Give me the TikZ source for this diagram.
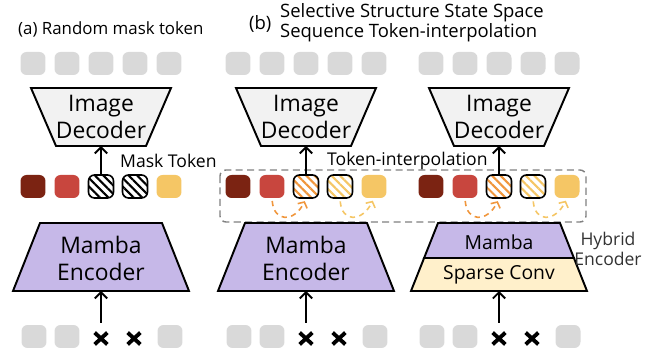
\documentclass[tikz,border=0pt]{standalone}
\usepackage{fontspec}
\setmainfont{Open Sans}
\usetikzlibrary{arrows.meta,patterns.meta,positioning}

\definecolor{tokgray}{HTML}{D9D9D9}
\definecolor{tokbrown}{HTML}{7B2312}
\definecolor{tokred}{HTML}{C8463E}
\definecolor{tokyellow}{HTML}{F5C665}
\definecolor{tokorange}{HTML}{F0963C}
\definecolor{mambafill}{HTML}{C6B8E8}
\definecolor{decfill}{HTML}{F2F2F2}
\definecolor{convfill}{HTML}{FFF0CB}

\tikzset{
  tok/.style={rectangle, rounded corners=1.2mm, minimum width=5mm, minimum height=4.6mm, inner sep=0pt},
  graytok/.style={tok, fill=tokgray},
  hatchtok/.style={tok, draw=black, line width=0.9pt,
    pattern={Lines[angle=-45,distance=3.4pt,line width=1.2pt]}, pattern color=#1},
  crossmark/.style={minimum width=2.4mm, minimum height=2.2mm, inner sep=0pt},
  crossline/.style={line width=2.2pt},
  block/.style={draw=black, line width=1.1pt, line join=miter},
  bigtext/.style={align=center, font=\fontsize{13}{15.3}\selectfont},
  midtext/.style={font=\fontsize{11}{13}\selectfont},
  uparrow/.style={-{Straight Barb[length=3.5pt,width=7pt]}, line width=1.1pt},
  interp/.style={dash pattern=on 3pt off 2.5pt, line width=0.9pt,
    -{Straight Barb[length=2.5pt,width=6pt]}, shorten <=1.5pt, shorten >=1.5pt},
  dashbox/.style={draw=gray, dash pattern=on 4pt off 2.5pt, line width=0.8pt, rounded corners=1.2mm}
}

\begin{document}
\begin{tikzpicture}[x=0.02cm, y=-0.02cm, font=\fontsize{10}{11.6}\selectfont]
\useasboundingbox (0,0) rectangle (650,351);

% titles
\node[anchor=west, font=\fontsize{9.6}{11}\selectfont] (titlea) at (12,29) {(a) Random mask token};
\node[anchor=west, font=\fontsize{10.5}{11.6}\selectfont] (titleb) at (243,24) {(b)};
\node[anchor=west, align=left, font=\fontsize{10.5}{11.6}\selectfont] (titleb2) at (274,23) {Selective Structure State Space\\Sequence Token-interpolation};

% output tokens and decoders
\foreach \p/\cx in {a/101,b/306,c/499}{
  \foreach \i in {1,...,5}
    \node[graytok] (top\p\i) at (\cx-102+34*\i,63.5) {};
  \draw[block, fill=decfill] (\cx-70,88) -- (\cx+70,88) -- (\cx+45,146) -- (\cx-45,146) -- cycle;
  \coordinate (dec\p) at (\cx,146);
  \node[bigtext] (dectext\p) at (\cx,117) {Image\\Decoder};
}

% visible + masked tokens
\foreach \p/\cx in {a/101,b/306,c/499}{
  \node[tok, fill=tokbrown] (mid\p1) at (\cx-68,186.5) {};
  \node[tok, fill=tokred] (mid\p2) at (\cx-34,186.5) {};
  \node[tok, fill=tokyellow] (mid\p5) at (\cx+68,186.5) {};
}
\node[hatchtok=black] (mida3) at (101,186.5) {};
\node[hatchtok=black] (mida4) at (135,186.5) {};
\foreach \p/\cx in {b/306,c/499}{
  \node[hatchtok=tokorange] (mid\p3) at (\cx,186.5) {};
  \node[hatchtok=tokyellow] (mid\p4) at (\cx+34,186.5) {};
  \draw[interp, tokorange] (mid\p2.south) .. controls +(2,24) and +(-12,24) .. (mid\p3.south);
  \draw[interp, tokyellow] (mid\p4.south) .. controls +(2,24) and +(-12,24) .. (mid\p5.south);
}
\draw[dashbox] (220,170) rectangle (586,222);

% up into the decoders
\foreach \p in {a,b,c}
  \draw[uparrow] (mid\p3.north) -- (dec\p);
\node[anchor=west] (masklbl) at (114,161) {Mask Token};
\node[anchor=west] (interplbl) at (321,161) {Token-interpolation};

% encoders
\foreach \p/\cx in {a/101,b/306}{
  \draw[block, fill=mambafill] (\cx-61,223) -- (\cx+61,223) -- (\cx+88,291) -- (\cx-88,291) -- cycle;
  \node[bigtext] (enctext\p) at (\cx,258) {Mamba\\Encoder};
}
\draw[block, fill=convfill] (424.1,258) -- (573.9,258) -- (587,291) -- (411,291) -- cycle;
\draw[block, fill=mambafill] (438,223) -- (560,223) -- (573.9,258) -- (424.1,258) -- cycle;
\node[midtext] (mambac) at (499,242) {Mamba};
\node[midtext] (convc) at (499,274.5) {Sparse Conv};
\node[align=center, text=black!80] (hybridlbl) at (608,249) {Hybrid\\Encoder};
\foreach \p/\cx in {a/101,b/306,c/499}
  \coordinate (enc\p) at (\cx,291);

% input tokens, two dropped
\foreach \p/\cx in {a/101,b/306,c/499}{
  \node[graytok] (bot\p1) at (\cx-67,336.5) {};
  \node[graytok] (bot\p2) at (\cx-34,336.5) {};
  \node[crossmark] (bot\p3) at (\cx,338.5) {};
  \node[crossmark] (bot\p4) at (\cx+33,338.5) {};
  \node[graytok] (bot\p5) at (\cx+69,336.5) {};
  \foreach \k in {3,4}
    \draw[crossline] (bot\p\k.north west) -- (bot\p\k.south east) (bot\p\k.south west) -- (bot\p\k.north east);
  \draw[uparrow, shorten <=2mm] (bot\p3.north) -- (enc\p);
}
\end{tikzpicture}
\end{document}
